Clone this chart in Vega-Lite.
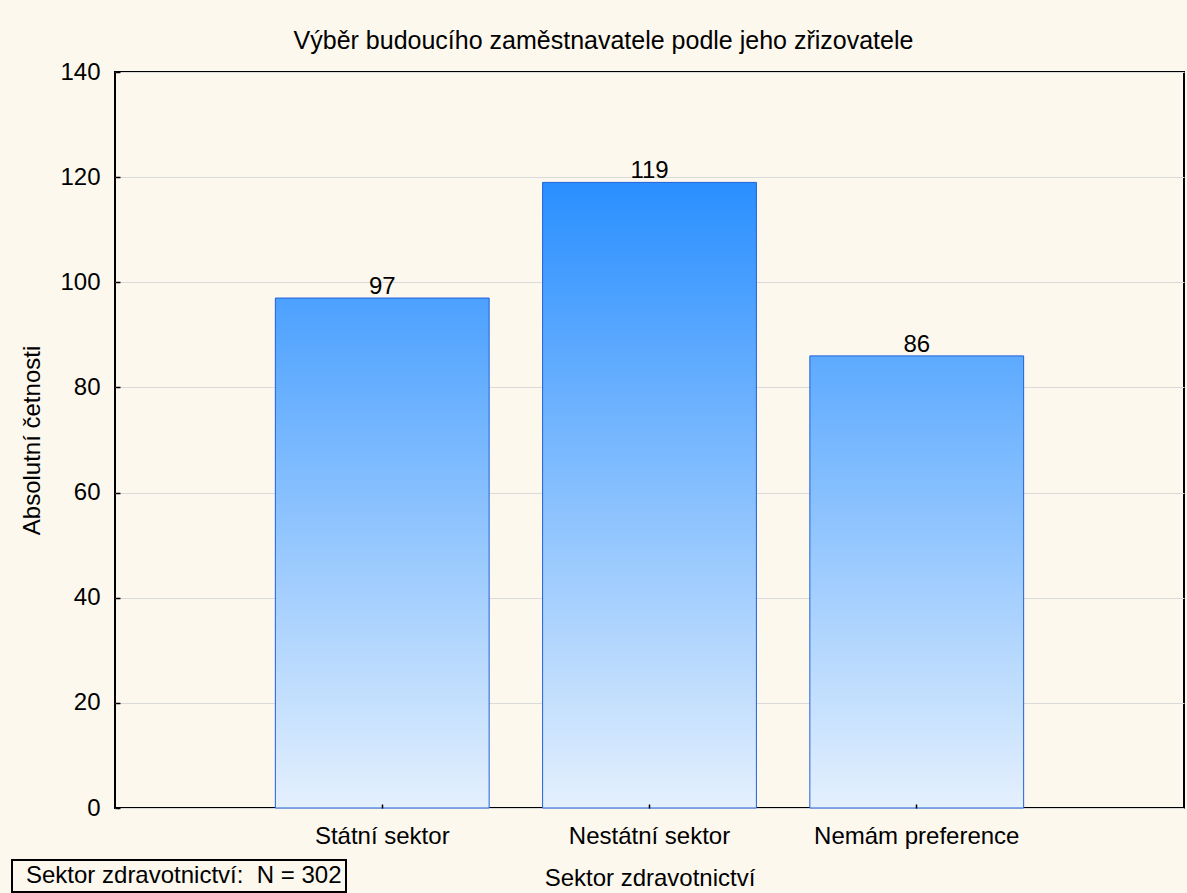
{
  "$schema": "https://vega.github.io/schema/vega-lite/v6.json",
  "width": 1069,
  "height": 736,
  "autosize": {"type": "none"},
  "padding": {"left": 115, "top": 72, "right": 3, "bottom": 85},
  "background": "#FDF8EE",
  "config": {
    "font": "Liberation Sans",
    "view": {"fill": "white", "stroke": "black", "strokeWidth": 2},
    "legend": {"strokeWidth": 2}
  },
  "title": {
    "text": "Výběr budoucího zaměstnavatele podle jeho zřizovatele",
    "font": "Liberation Sans",
    "fontSize": 25,
    "fontWeight": "normal",
    "color": "black",
    "anchor": "middle",
    "frame": "bounds",
    "baseline": "alphabetic",
    "offset": -14,
    "dx": 6
  },
  "datasets": {
    "bars": [
      {"sektor": "Státní sektor", "count": 97},
      {"sektor": "Nestátní sektor", "count": 119},
      {"sektor": "Nemám preference", "count": 86}
    ]
  },
  "layer": [
    {
      "data": {"name": "bars"},
      "transform": [{"filter": "datum.sektor === 'Státní sektor'"}],
      "mark": {
        "type": "bar",
        "stroke": "#1F5FDB",
        "strokeWidth": 1,
        "fill": {"gradient": "linear", "x1": 0, "y1": 0, "x2": 0, "y2": 1,
          "stops": [{"offset": 0, "color": "#4CA1FF"}, {"offset": 1, "color": "#E4F0FD"}]}
      },
      "encoding": {
        "x": {
          "field": "sektor", "type": "nominal",
          "sort": ["Státní sektor", "Nestátní sektor", "Nemám preference"],
          "scale": {"paddingInner": 0.2, "paddingOuter": 0.6},
          "axis": {
            "title": "Sektor zdravotnictví",
            "labelAngle": 0,
            "labelFontSize": 24,
            "labelColor": "black",
            "labelLimit": 400,
            "titleFontSize": 24,
            "titleFontWeight": "normal",
            "titleColor": "black",
            "domain": false,
            "tickSize": -4,
            "tickColor": "black",
            "tickWidth": 1.5,
            "labelPadding": 20,
            "titlePadding": 18,
            "grid": false,
            "zindex": 1
          }
        },
        "y": {
          "field": "count", "type": "quantitative",
          "scale": {"domain": [0, 140], "nice": false},
          "axis": {
            "title": "Absolutní četnosti",
            "values": [0, 20, 40, 60, 80, 100, 120, 140],
            "labelFontSize": 24,
            "labelColor": "black",
            "titleFontSize": 24,
            "titleFontWeight": "normal",
            "titleColor": "black",
            "domain": false,
            "tickSize": -5,
            "tickColor": "black",
            "tickWidth": 1.5,
            "labelPadding": 20,
            "titlePadding": 15,
            "grid": true,
            "gridColor": "#DADADA",
            "gridWidth": 1
          }
        }
      }
    },
    {
      "data": {"name": "bars"},
      "transform": [{"filter": "datum.sektor === 'Nestátní sektor'"}],
      "mark": {
        "type": "bar",
        "stroke": "#1F5FDB",
        "strokeWidth": 1,
        "fill": {"gradient": "linear", "x1": 0, "y1": 0, "x2": 0, "y2": 1,
          "stops": [{"offset": 0, "color": "#2A8FFF"}, {"offset": 1, "color": "#E4F0FD"}]}
      },
      "encoding": {
        "x": {"field": "sektor", "type": "nominal", "sort": ["Státní sektor", "Nestátní sektor", "Nemám preference"]},
        "y": {"field": "count", "type": "quantitative"}
      }
    },
    {
      "data": {"name": "bars"},
      "transform": [{"filter": "datum.sektor === 'Nemám preference'"}],
      "mark": {
        "type": "bar",
        "stroke": "#1F5FDB",
        "strokeWidth": 1,
        "fill": {"gradient": "linear", "x1": 0, "y1": 0, "x2": 0, "y2": 1,
          "stops": [{"offset": 0, "color": "#5DAAFF"}, {"offset": 1, "color": "#E4F0FD"}]}
      },
      "encoding": {
        "x": {"field": "sektor", "type": "nominal", "sort": ["Státní sektor", "Nestátní sektor", "Nemám preference"]},
        "y": {"field": "count", "type": "quantitative"}
      }
    },
    {
      "data": {"name": "bars"},
      "mark": {"type": "text", "baseline": "alphabetic", "dy": -4, "fontSize": 24, "color": "black"},
      "encoding": {
        "x": {"field": "sektor", "type": "nominal", "sort": ["Státní sektor", "Nestátní sektor", "Nemám preference"]},
        "y": {"field": "count", "type": "quantitative"},
        "text": {"field": "count", "type": "quantitative"}
      }
    },
    {
      "data": {"values": [{"note": "Sektor zdravotnictví:\u00a0 N = 302"}]},
      "mark": {"type": "point", "opacity": 0},
      "encoding": {
        "color": {
          "field": "note", "type": "nominal",
          "scale": {"range": ["transparent"]},
          "legend": {
            "title": null,
            "orient": "none",
            "legendX": -103,
            "legendY": 788,
            "padding": 4,
            "strokeColor": "black",
            "symbolSize": 0,
            "symbolOpacity": 0,
            "symbolStrokeWidth": 0,
            "labelFontSize": 24,
            "labelColor": "black",
            "labelOffset": -14,
            "labelLimit": 600
          }
        }
      }
    }
  ]
}
